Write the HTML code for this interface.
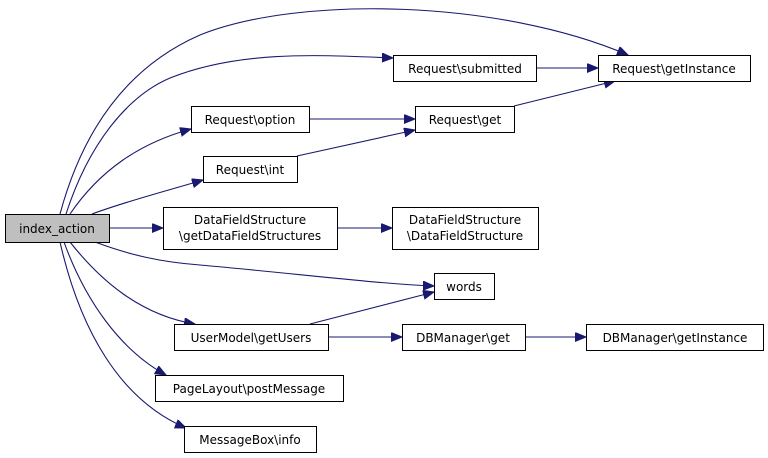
<!DOCTYPE html>
<html><head><meta charset="utf-8"><style>
html,body{margin:0;padding:0;background:#fff;}
svg{display:block;}
text{font-family:"DejaVu Sans","Liberation Sans",sans-serif;font-size:12px;fill:#000;}
</style></head><body>
<svg width="768" height="458" viewBox="0 0 768 458" xmlns="http://www.w3.org/2000/svg">
<defs>
<marker id="a" markerUnits="userSpaceOnUse" markerWidth="12" markerHeight="10" refX="11" refY="4.5" orient="auto">
<path d="M0,0 L11,4.5 L0,9 Z" fill="#191970" stroke="#191970"/>
</marker>
</defs>
<g fill="none" stroke="#191970" stroke-width="1.1" marker-end="url(#a)">
<path d="M60,214 C80,140 120,70 200,35 C300,-5 500,0 628,55"/>
<path d="M66,214 C90,140 130,95 170,78 C240,50 320,55 393,58"/>
<path d="M70,214 C100,170 140,143 191,129"/>
<path d="M92,214 C130,200 170,190 203,180"/>
<path d="M109,228 L163,228"/>
<path d="M95,242 C130,255 160,262 200,265 C300,274 380,284 434,286"/>
<path d="M70,242 C100,280 140,315 195,324"/>
<path d="M64,242 C85,300 120,350 166,375"/>
<path d="M60,242 C80,330 120,400 186,428"/>
<path d="M309,119 L415,119"/>
<path d="M297,156 L415,130"/>
<path d="M536,68 L598,68"/>
<path d="M514,106 L615,81"/>
<path d="M337,228 L392,228"/>
<path d="M310,324 L434,292"/>
<path d="M328,337 L402,337"/>
<path d="M525,337 L586,337"/>
</g>
<g stroke="#000" stroke-width="1" fill="#fff">
<rect x="5.5" y="214.5" width="104" height="28" fill="#bfbfbf"/>
<rect x="191.5" y="106.5" width="118" height="26"/>
<rect x="203.5" y="156.5" width="94" height="26"/>
<rect x="163.5" y="207.5" width="174" height="42"/>
<rect x="393.5" y="55.5" width="143" height="26"/>
<rect x="598.5" y="55.5" width="152" height="26"/>
<rect x="415.5" y="106.5" width="99" height="26"/>
<rect x="392.5" y="207.5" width="146" height="42"/>
<rect x="434.5" y="273.5" width="60" height="26"/>
<rect x="174.5" y="324.5" width="154" height="26"/>
<rect x="402.5" y="324.5" width="123" height="26"/>
<rect x="586.5" y="324.5" width="177" height="26"/>
<rect x="155.5" y="375.5" width="188" height="26"/>
<rect x="184.5" y="426.5" width="132" height="26"/>
</g>
<g text-anchor="middle">
<text x="57" y="233">index_action</text>
<text x="250" y="124">Request\option</text>
<text x="250" y="174">Request\int</text>
<text x="250" y="224">DataFieldStructure</text>
<text x="250" y="240">\getDataFieldStructures</text>
<text x="465" y="73">Request\submitted</text>
<text x="674" y="73">Request\getInstance</text>
<text x="465" y="124">Request\get</text>
<text x="465" y="224">DataFieldStructure</text>
<text x="465" y="240">\DataFieldStructure</text>
<text x="464" y="291">words</text>
<text x="251" y="342">UserModel\getUsers</text>
<text x="463" y="342">DBManager\get</text>
<text x="675" y="342">DBManager\getInstance</text>
<text x="249" y="393">PageLayout\postMessage</text>
<text x="250" y="444">MessageBox\info</text>
</g>
</svg>
</body></html>
